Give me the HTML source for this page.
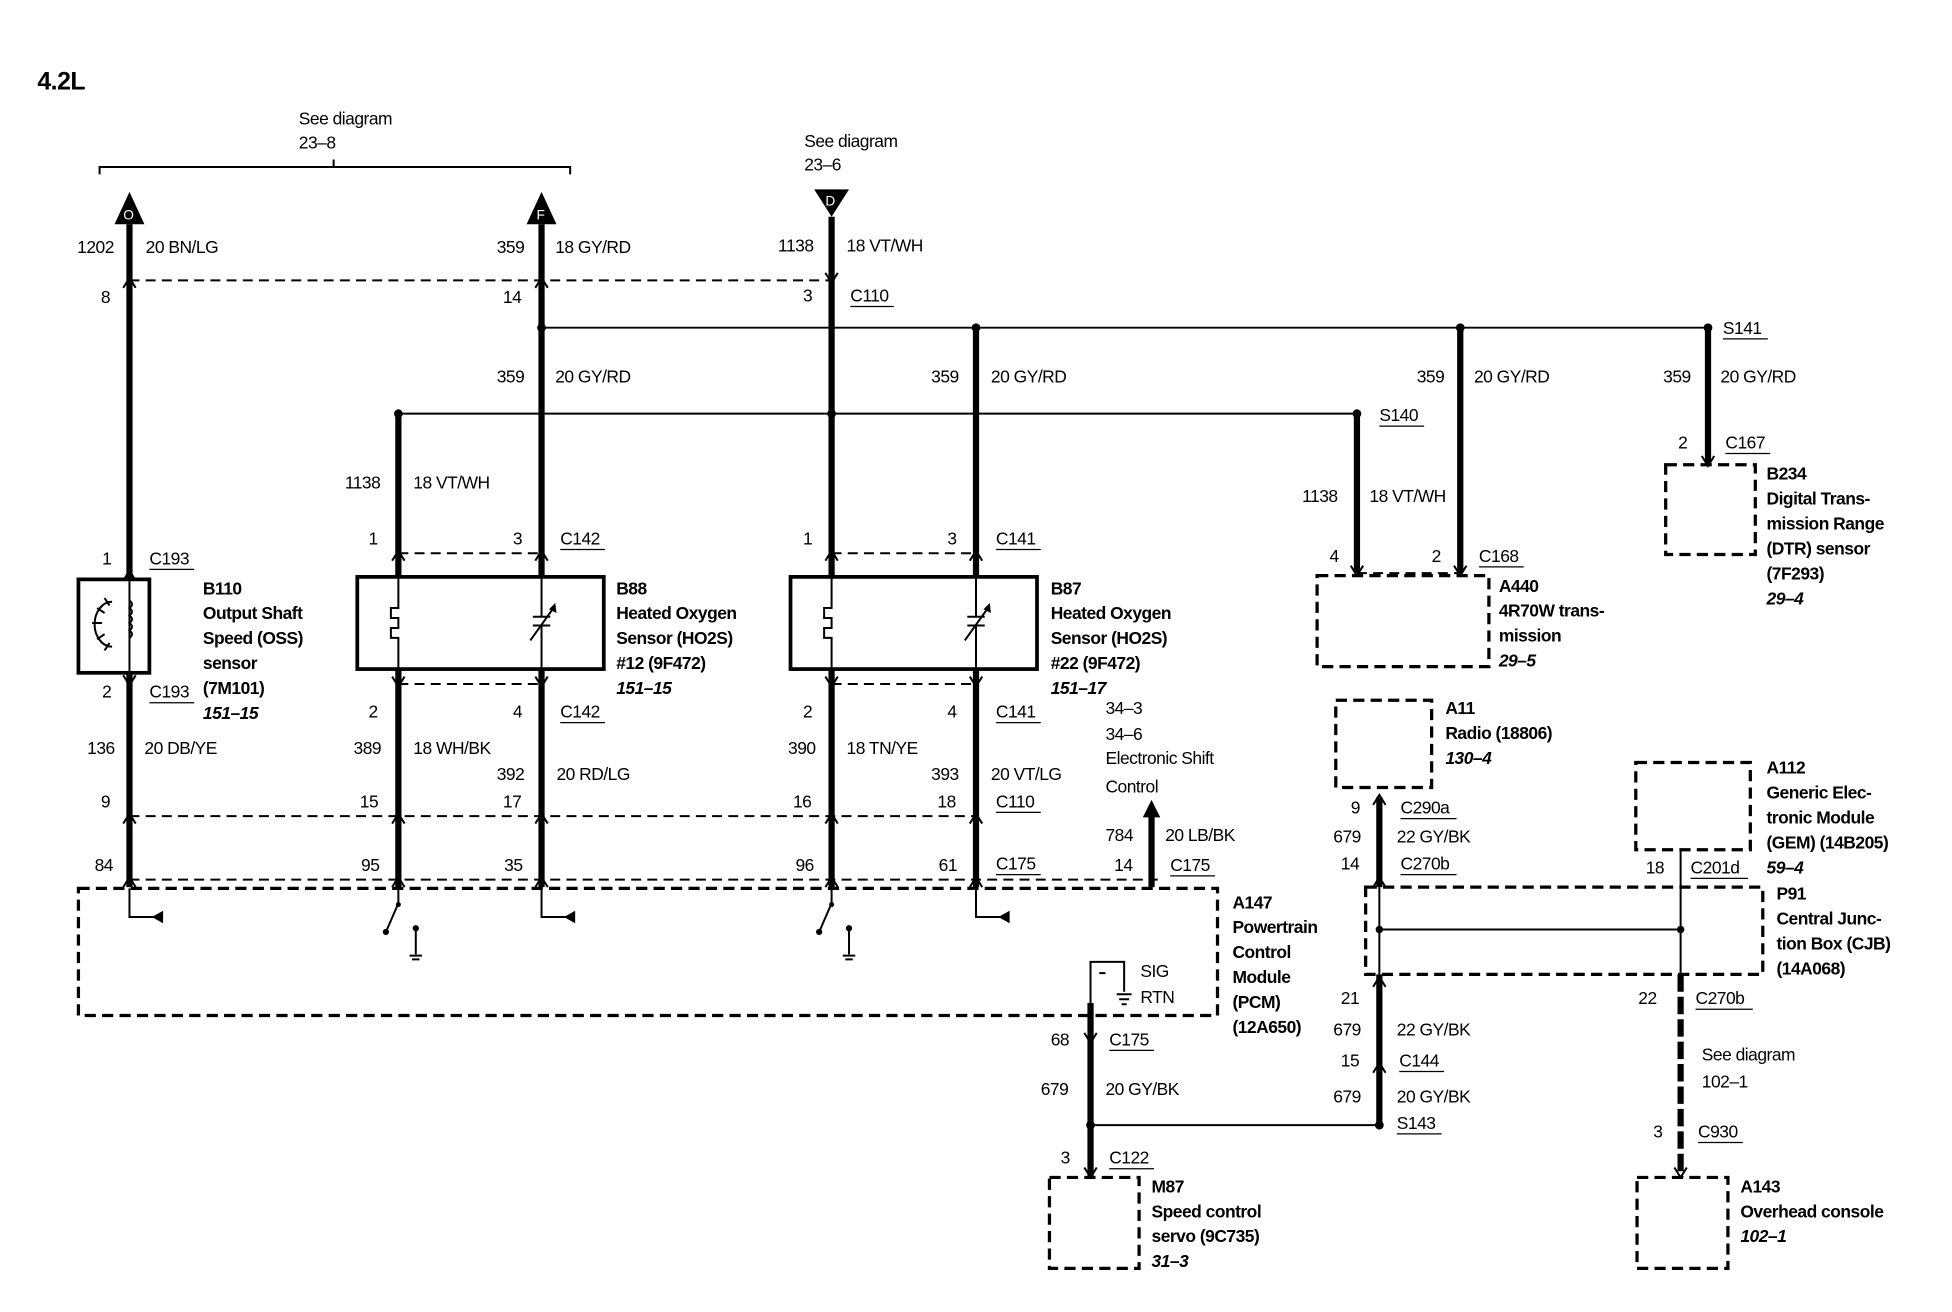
<!DOCTYPE html>
<html><head><meta charset="utf-8"><style>
html,body{margin:0;padding:0;background:#fff;}
svg{display:block;}
text{font-family:"Liberation Sans",sans-serif;font-size:14px;fill:#000;letter-spacing:-0.4px;}
.b{font-weight:bold;}
.i{font-weight:bold;font-style:italic;}
.w{stroke:#000;stroke-width:5;fill:none;}
.t{stroke:#000;stroke-width:1.6;fill:none;}
.d{stroke:#000;stroke-width:1.6;fill:none;stroke-dasharray:8,5;}
.db{stroke:#000;stroke-width:2.6;fill:none;stroke-dasharray:9,5;}
.u{stroke:#000;stroke-width:1;}
</style></head><body>
<svg width="1952" height="1312" viewBox="0 0 1568 1053" preserveAspectRatio="none" xmlns="http://www.w3.org/2000/svg">
<defs>
<path id="au" d="M-5,6 L0,-2 L5,6" stroke="#000" stroke-width="1.6" fill="none"/>
<path id="ad" d="M-5,-6 L0,2 L5,-6" stroke="#000" stroke-width="1.6" fill="none"/>
</defs>
<text x="30" y="72" class="b" style="font-size:20px">4.2L</text>

<path class="t" d="M80,140 L80,134 L458,134 L458,140 M268,134 L268,128" stroke-width="2"/>
<text x="240" y="100">See diagram</text><text x="240" y="119">23–8</text>
<text x="646" y="118">See diagram</text><text x="646" y="137">23–6</text>

<path d="M104,154 L116,180 L92,180 Z" fill="#000"/><text x="99" y="176" style="fill:#fff;font-size:11px">O</text>
<path d="M435,154 L447,180 L423,180 Z" fill="#000"/><text x="431" y="176" style="fill:#fff;font-size:11px">F</text>
<path d="M654,152 L682,152 L668,174 Z" fill="#000"/><text x="663" y="165" style="fill:#fff;font-size:11px">D</text>

<path class="w" d="M104,180 L104,465 M104,540 L104,712"/>
<path class="w" d="M435,180 L435,463 M435,537 L435,712"/>
<path class="w" d="M668,174 L668,463 M668,537 L668,712"/>
<path class="w" d="M320,332 L320,463 M320,537 L320,712"/>
<path class="w" d="M784,263 L784,463 M784,537 L784,712"/>
<path class="w" d="M1173,263 L1173,460"/>
<path class="w" d="M1090,332 L1090,460"/>
<path class="w" d="M1372,263 L1372,373"/>
<path class="w" d="M925,650 L925,712"/>
<path d="M918,656 L925,642 L932,656 Z" fill="#000"/>
<path class="w" d="M876,805 L876,945"/>
<path class="w" d="M1108,640 L1108,712 M1108,782 L1108,903"/>
<path class="w" d="M1350,782 L1350,945" stroke-dasharray="14,4" stroke-width="6"/>

<path class="t" d="M435,263 L1372,263"/>
<path class="t" d="M320,332 L1090,332"/>
<path class="t" d="M876,903 L1108,903"/>
<g fill="#000"><circle cx="435" cy="263" r="3.5"/><circle cx="784" cy="263" r="3.5"/><circle cx="1173" cy="263" r="3.5"/><circle cx="1372" cy="263" r="3.5"/><circle cx="320" cy="332" r="3.5"/><circle cx="668" cy="332" r="3.5"/><circle cx="1090" cy="332" r="3.5"/><circle cx="876" cy="903" r="3.5"/><circle cx="1108" cy="903" r="3.5"/></g>

<path class="d" d="M104,225 L668,225"/>
<path class="d" d="M320,444 L435,444 M668,444 L784,444"/>
<path class="d" d="M320,549 L435,549 M668,549 L784,549"/>
<path class="d" d="M104,655 L784,655"/>
<path class="d" d="M104,706 L930,706"/>
<path class="d" d="M1090,460 L1173,460"/>

<use href="#au" x="104" y="225"/><use href="#au" x="435" y="225"/><use href="#ad" x="668" y="225"/>
<use href="#au" x="104" y="460"/><use href="#au" x="320" y="444"/><use href="#au" x="435" y="444"/><use href="#au" x="668" y="444"/><use href="#au" x="784" y="444"/>
<use href="#ad" x="104" y="548"/><use href="#ad" x="320" y="549"/><use href="#ad" x="435" y="549"/><use href="#ad" x="668" y="549"/><use href="#ad" x="784" y="549"/>
<use href="#au" x="104" y="655"/><use href="#au" x="320" y="655"/><use href="#au" x="435" y="655"/><use href="#au" x="668" y="655"/><use href="#au" x="784" y="655"/>
<use href="#au" x="104" y="706"/><use href="#au" x="320" y="706"/><use href="#au" x="435" y="706"/><use href="#au" x="668" y="706"/><use href="#au" x="784" y="706"/>
<use href="#ad" x="1090" y="460"/><use href="#ad" x="1173" y="460"/><use href="#ad" x="1372" y="372"/>
<use href="#au" x="1108" y="640"/><use href="#au" x="1108" y="706"/><use href="#au" x="1108" y="786"/><use href="#au" x="1108" y="855"/>
<use href="#ad" x="876" y="835"/><use href="#ad" x="876" y="943"/><use href="#ad" x="1350" y="943"/>

<text x="62" y="203">1202</text><text x="117" y="203">20 BN/LG</text>
<text x="399" y="203">359</text><text x="446" y="203">18 GY/RD</text>
<text x="625" y="202">1138</text><text x="680" y="202">18 VT/WH</text>
<text x="81" y="243">8</text><text x="404" y="243">14</text><text x="645" y="242">3</text><text x="683" y="242">C110</text><path class="u" d="M683,246 L718,246"/>
<text x="399" y="307">359</text><text x="446" y="307">20 GY/RD</text>
<text x="748" y="307">359</text><text x="796" y="307">20 GY/RD</text>
<text x="1138" y="307">359</text><text x="1184" y="307">20 GY/RD</text>
<text x="1336" y="307">359</text><text x="1382" y="307">20 GY/RD</text>
<text x="1384" y="268">S141</text><path class="u" d="M1384,272 L1420,272"/>
<text x="1108" y="338">S140</text><path class="u" d="M1108,342 L1144,342"/>
<text x="277" y="392">1138</text><text x="332" y="392">18 VT/WH</text>
<text x="1046" y="403">1138</text><text x="1100" y="403">18 VT/WH</text>
<text x="1348" y="360">2</text><text x="1386" y="360">C167</text><path class="u" d="M1386,364 L1422,364"/>
<text x="1068" y="451">4</text><text x="1150" y="451">2</text><text x="1188" y="451">C168</text><path class="u" d="M1188,455 L1224,455"/>
<text x="296" y="437">1</text><text x="412" y="437">3</text><text x="450" y="437">C142</text><path class="u" d="M450,441 L486,441"/>
<text x="645" y="437">1</text><text x="761" y="437">3</text><text x="800" y="437">C141</text><path class="u" d="M800,441 L836,441"/>
<text x="82" y="453">1</text><text x="120" y="453">C193</text><path class="u" d="M120,457 L156,457"/>
<text x="82" y="560">2</text><text x="120" y="560">C193</text><path class="u" d="M120,564 L156,564"/>
<text x="296" y="576">2</text><text x="412" y="576">4</text><text x="450" y="576">C142</text><path class="u" d="M450,580 L486,580"/>
<text x="645" y="576">2</text><text x="761" y="576">4</text><text x="800" y="576">C141</text><path class="u" d="M800,580 L836,580"/>
<text x="70" y="605">136</text><text x="116" y="605">20 DB/YE</text>
<text x="284" y="605">389</text><text x="332" y="605">18 WH/BK</text>
<text x="399" y="626">392</text><text x="447" y="626">20 RD/LG</text>
<text x="633" y="605">390</text><text x="680" y="605">18 TN/YE</text>
<text x="748" y="626">393</text><text x="796" y="626">20 VT/LG</text>
<text x="888" y="573">34–3</text><text x="888" y="594">34–6</text><text x="888" y="613">Electronic Shift</text><text x="888" y="636">Control</text>
<text x="81" y="648">9</text><text x="289" y="648">15</text><text x="404" y="648">17</text><text x="637" y="648">16</text><text x="753" y="648">18</text><text x="800" y="648">C110</text><path class="u" d="M800,652 L836,652"/>
<text x="888" y="675">784</text><text x="936" y="675">20 LB/BK</text>
<text x="76" y="699">84</text><text x="290" y="699">95</text><text x="405" y="699">35</text><text x="639" y="699">96</text><text x="754" y="699">61</text>
<text x="800" y="698">C175</text><path class="u" d="M800,702 L836,702"/>
<text x="895" y="699">14</text><text x="940" y="699">C175</text><path class="u" d="M940,703 L976,703"/>

<rect x="63" y="465" width="57" height="75" fill="none" stroke="#000" stroke-width="3"/>
<path class="t" d="M104,465 L104,540"/>
<path class="t" d="M104,482 q4,3 0,6 q4,3 0,6 q4,3 0,6 q4,3 0,6 q4,3 0,6"/>
<path class="t" d="M90,483 a14,18 0 0 0 0,36 M78,488 l6,4 M74,500 l8,0 M78,513 l6,-4 M84,480 l4,6 M84,522 l4,-6"/>
<text x="163" y="477" class="b">B110</text><text x="163" y="497" class="b">Output Shaft</text><text x="163" y="517" class="b">Speed (OSS)</text><text x="163" y="537" class="b">sensor</text><text x="163" y="557" class="b">(7M101)</text><text x="163" y="577" class="i">151–15</text>

<rect x="287" y="463" width="198" height="74" fill="none" stroke="#000" stroke-width="3"/>
<path class="t" d="M320,463 L320,488 L314,488 L314,496 L320,496 L320,504 L314,504 L314,512 L320,512 L320,537"/>
<path class="t" d="M435,463 L435,495 M428,495 L442,495 M428,502 L442,502 M435,502 L435,537 M426,514 L446,486" stroke-width="2"/>
<path d="M446,484 L447,492 L441,489 Z" fill="#000"/>
<text x="495" y="477" class="b">B88</text><text x="495" y="497" class="b">Heated Oxygen</text><text x="495" y="517" class="b">Sensor (HO2S)</text><text x="495" y="537" class="b">#12 (9F472)</text><text x="495" y="557" class="i">151–15</text>

<rect x="635" y="463" width="198" height="74" fill="none" stroke="#000" stroke-width="3"/>
<path class="t" d="M668,463 L668,488 L662,488 L662,496 L668,496 L668,504 L662,504 L662,512 L668,512 L668,537"/>
<path class="t" d="M784,463 L784,495 M777,495 L791,495 M777,502 L791,502 M784,502 L784,537 M775,514 L795,486" stroke-width="2"/>
<path d="M795,484 L796,492 L790,489 Z" fill="#000"/>
<text x="844" y="477" class="b">B87</text><text x="844" y="497" class="b">Heated Oxygen</text><text x="844" y="517" class="b">Sensor (HO2S)</text><text x="844" y="537" class="b">#22 (9F472)</text><text x="844" y="557" class="i">151–17</text>

<rect x="1338" y="373" width="72" height="72" class="db"/>
<text x="1419" y="385" class="b">B234</text><text x="1419" y="405" class="b">Digital Trans-</text><text x="1419" y="425" class="b">mission Range</text><text x="1419" y="445" class="b">(DTR) sensor</text><text x="1419" y="465" class="b">(7F293)</text><text x="1419" y="485" class="i">29–4</text>

<rect x="1058" y="462" width="138" height="73" class="db"/>
<text x="1204" y="475" class="b">A440</text><text x="1204" y="495" class="b">4R70W trans-</text><text x="1204" y="515" class="b">mission</text><text x="1204" y="535" class="i">29–5</text>

<rect x="63" y="713" width="915" height="102" class="db"/>
<path class="t" d="M104,713 L104,736 L124,736"/><path d="M122,736 L131,731 L131,741 Z" fill="#000"/>
<path class="t" d="M435,713 L435,736 L455,736"/><path d="M453,736 L462,731 L462,741 Z" fill="#000"/>
<path class="t" d="M784,713 L784,736 L810,736"/><path d="M802,736 L811,731 L811,741 Z" fill="#000"/>
<path class="t" d="M320,713 L320,725 L310,748"/><circle cx="320" cy="726" r="2" fill="#000"/><circle cx="310" cy="748" r="2.5" fill="#000"/>
<path class="t" d="M334,745 L334,766 M329,767 L339,767 M331,770 L337,770"/><circle cx="334" cy="745" r="2.5" fill="#000"/>
<path class="t" d="M668,713 L668,725 L658,748"/><circle cx="668" cy="726" r="2" fill="#000"/><circle cx="658" cy="748" r="2.5" fill="#000"/>
<path class="t" d="M682,745 L682,766 M677,767 L687,767 M679,770 L685,770"/><circle cx="682" cy="745" r="2.5" fill="#000"/>
<path class="t" d="M876,805 L876,772 L903,772 L903,796 M897,798 L909,798 M899,802 L907,802 M901,806 L905,806 M883,781 L888,781"/>
<text x="916" y="784">SIG</text><text x="916" y="805">RTN</text>
<text x="990" y="729" class="b">A147</text><text x="990" y="749" class="b">Powertrain</text><text x="990" y="769" class="b">Control</text><text x="990" y="789" class="b">Module</text><text x="990" y="809" class="b">(PCM)</text><text x="990" y="829" class="b">(12A650)</text>

<text x="844" y="839">68</text><text x="891" y="839">C175</text><path class="u" d="M891,843 L927,843"/>
<text x="836" y="879">679</text><text x="888" y="879">20 GY/BK</text>
<text x="852" y="934">3</text><text x="891" y="934">C122</text><path class="u" d="M891,938 L927,938"/>
<rect x="843" y="945" width="72" height="73" class="db"/>
<text x="925" y="957" class="b">M87</text><text x="925" y="977" class="b">Speed control</text><text x="925" y="997" class="b">servo (9C735)</text><text x="925" y="1017" class="i">31–3</text>

<rect x="1073" y="562" width="77" height="70" class="db"/>
<text x="1161" y="573" class="b">A11</text><text x="1161" y="593" class="b">Radio (18806)</text><text x="1161" y="613" class="i">130–4</text>
<text x="1085" y="653">9</text><text x="1125" y="653">C290a</text><path class="u" d="M1125,657 L1170,657"/>
<text x="1071" y="676">679</text><text x="1122" y="676">22 GY/BK</text>
<text x="1077" y="698">14</text><text x="1125" y="698">C270b</text><path class="u" d="M1125,702 L1170,702"/>

<rect x="1314" y="612" width="92" height="70" class="db"/>
<text x="1419" y="621" class="b">A112</text><text x="1419" y="641" class="b">Generic Elec-</text><text x="1419" y="661" class="b">tronic Module</text><text x="1419" y="681" class="b">(GEM) (14B205)</text><text x="1419" y="701" class="i">59–4</text>
<text x="1322" y="701">18</text><text x="1358" y="701">C201d</text><path class="u" d="M1358,705 L1404,705"/>
<path class="t" d="M1350,682 L1350,782"/>

<rect x="1097" y="712" width="319" height="70" class="db"/>
<path class="t" d="M1108,712 L1108,782 M1108,746 L1350,746"/>
<circle cx="1108" cy="746" r="3" fill="#000"/><circle cx="1350" cy="746" r="3" fill="#000"/>
<text x="1427" y="722" class="b">P91</text><text x="1427" y="742" class="b">Central Junc-</text><text x="1427" y="762" class="b">tion Box (CJB)</text><text x="1427" y="782" class="b">(14A068)</text>

<text x="1077" y="806">21</text>
<text x="1071" y="831">679</text><text x="1122" y="831">22 GY/BK</text>
<text x="1077" y="856">15</text><text x="1124" y="856">C144</text><path class="u" d="M1124,860 L1160,860"/>
<text x="1071" y="885">679</text><text x="1122" y="885">20 GY/BK</text>
<text x="1122" y="906">S143</text><path class="u" d="M1122,910 L1158,910"/>
<text x="1316" y="806">22</text><text x="1362" y="806">C270b</text><path class="u" d="M1362,810 L1408,810"/>
<text x="1367" y="851">See diagram</text><text x="1367" y="873">102–1</text>
<text x="1328" y="913">3</text><text x="1364" y="913">C930</text><path class="u" d="M1364,917 L1400,917"/>

<rect x="1315" y="945" width="73" height="73" class="db"/>
<text x="1398" y="957" class="b">A143</text><text x="1398" y="977" class="b">Overhead console</text><text x="1398" y="997" class="i">102–1</text>
</svg>
</body></html>
